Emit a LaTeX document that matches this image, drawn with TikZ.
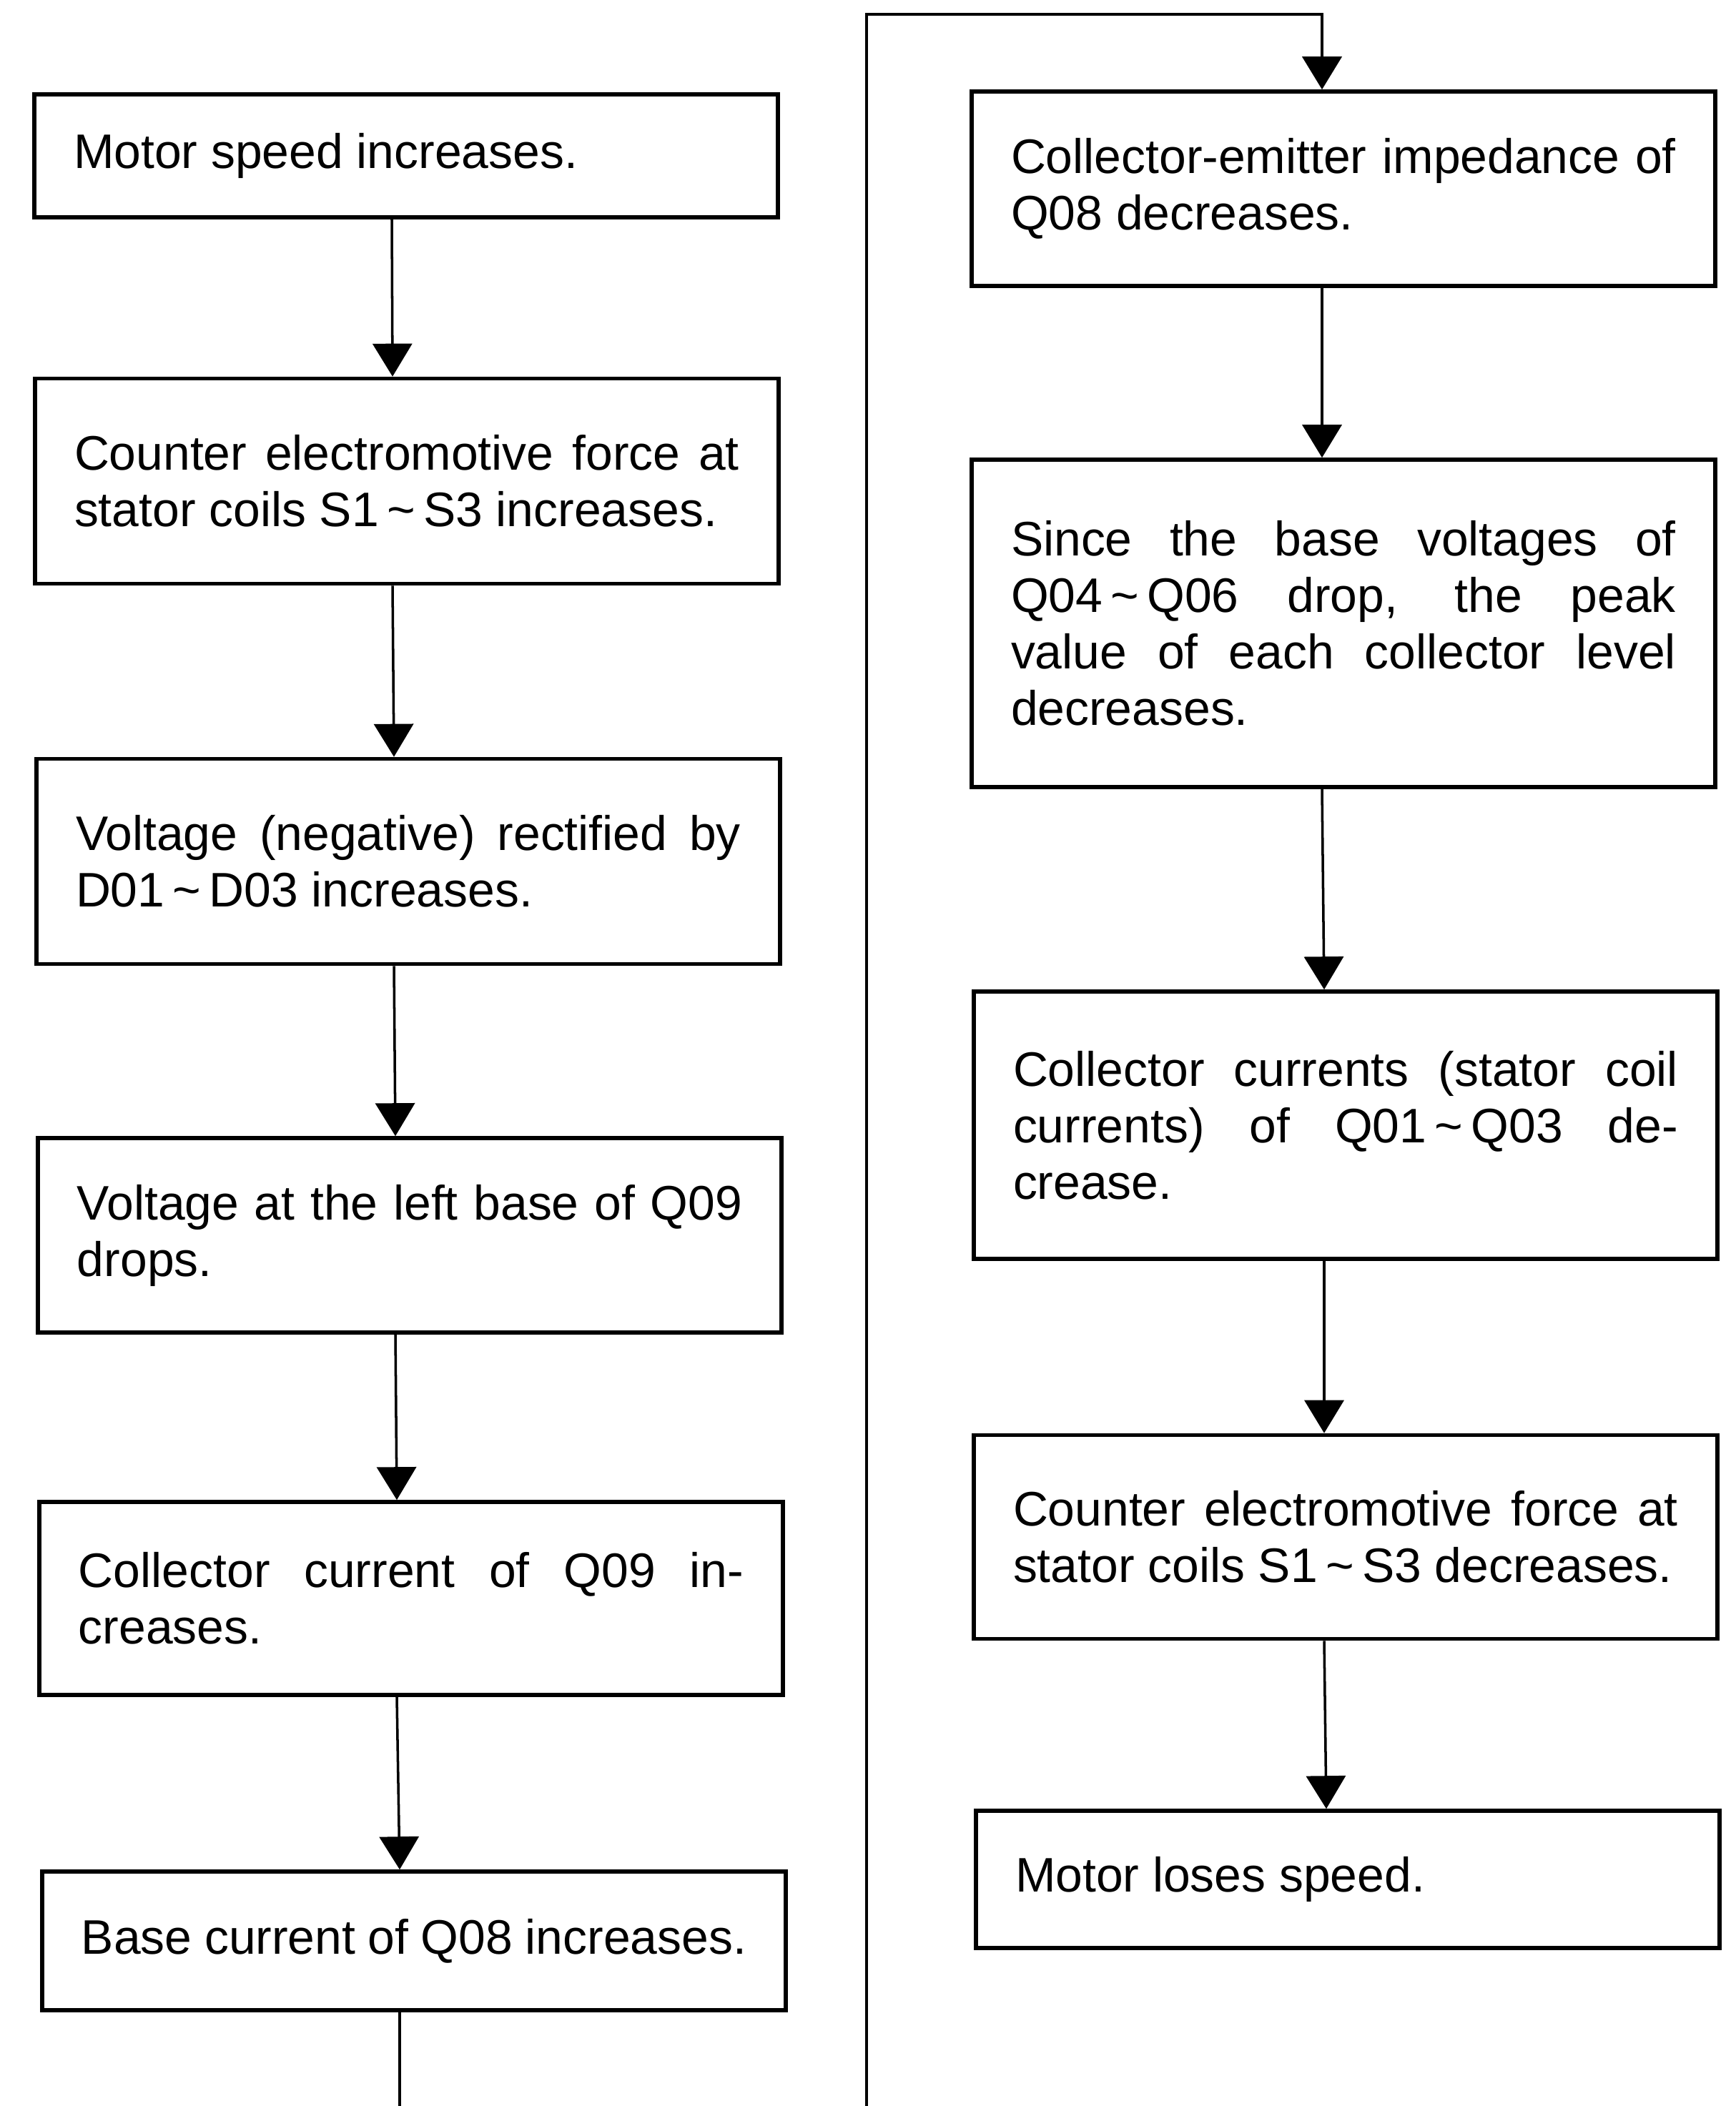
\documentclass[tikz,border=0pt]{standalone}
\usepackage{fontspec}
\setmainfont{Liberation Sans}
\usetikzlibrary{arrows.meta}
\pgfdeclarelayer{edgelayer}
\pgfdeclarelayer{nodelayer}
\pgfsetlayers{edgelayer,nodelayer,main}
\tikzstyle{stage}=[rectangle, draw=black, fill=white, line width=1.6pt, text width=9.3cm, align=justify, inner xsep=0.55cm, inner ysep=0pt, font=\fontsize{19.3}{22.5}\selectfont]
\tikzstyle{arrow}=[-{Triangle[width=0.55cm,length=0.46cm]}, draw=black, line width=1.000]
\tikzstyle{wire}=[-, draw=black, line width=1.200]
\newcommand{\rng}{\,\textasciitilde\,}

\begin{document}
\begin{tikzpicture}
            \useasboundingbox (0,0) rectangle (24.28,-29.46);
            \begin{pgfonlayer}{nodelayer}
                \coordinate (loopR) at (12.12, -29.46);
                \coordinate (looptop) at (12.12, -0.2);
                \node [style=stage, minimum height=1.72cm] (speedup) at (5.68, -2.18) {Motor speed increases.};
                \node [style=stage, minimum height=2.87cm] (cemfup) at (5.69, -6.73) {Counter electromotive force at\linebreak stator coils S1\rng S3 increases.};
                \node [style=stage, minimum height=2.87cm] (rectup) at (5.71, -12.05) {Voltage (negative) rectified by\linebreak D01\rng D03 increases.};
                \node [style=stage, minimum height=2.72cm] (basedrop) at (5.73, -17.28) {Voltage at the left base of Q09\linebreak drops.};
                \node [style=stage, minimum height=2.70cm] (collup) at (5.75, -22.36) {Collector current of Q09 in-\linebreak creases.};
                \node [style=stage, minimum height=1.94cm] (baseup) at (5.79, -27.15) {Base current of Q08 increases.};
                \node [style=stage, minimum height=2.72cm] (ceimp) at (18.79, -2.64) {Collector-emitter impedance of\linebreak Q08 decreases.};
                \node [style=stage, minimum height=4.58cm] (peakdown) at (18.79, -8.72) {Since the base voltages of\linebreak Q04\rng Q06 drop, the peak\linebreak value of each collector level\linebreak decreases.};
                \node [style=stage, minimum height=3.74cm] (colldown) at (18.82, -15.74) {Collector currents (stator coil\linebreak currents) of Q01\rng Q03 de-\linebreak crease.};
                \node [style=stage, minimum height=2.85cm] (cemfdown) at (18.82, -21.50) {Counter electromotive force at\linebreak stator coils S1\rng S3 decreases.};
                \node [style=stage, minimum height=1.92cm] (speeddown) at (18.85, -26.29) {Motor loses speed.};
                \coordinate (loopL) at ([xshift=-2mm]baseup.south |- loopR);
            \end{pgfonlayer}
            \begin{pgfonlayer}{edgelayer}
                \draw [style=arrow] ([xshift=-2mm]speedup.south) to ([xshift=-2mm]cemfup.north);
                \draw [style=arrow] ([xshift=-2mm]cemfup.south) to ([xshift=-2mm]rectup.north);
                \draw [style=arrow] ([xshift=-2mm]rectup.south) to ([xshift=-2mm]basedrop.north);
                \draw [style=arrow] ([xshift=-2mm]basedrop.south) to ([xshift=-2mm]collup.north);
                \draw [style=arrow] ([xshift=-2mm]collup.south) to ([xshift=-2mm]baseup.north);
                \draw [style=wire] ([xshift=-2mm]baseup.south) to (loopL);
                \draw [style=arrow, line width=1.200] (loopR) -- (looptop) -| ([xshift=-3mm]ceimp.north);
                \draw [style=arrow] ([xshift=-3mm]ceimp.south) to ([xshift=-3mm]peakdown.north);
                \draw [style=arrow] ([xshift=-3mm]peakdown.south) to ([xshift=-3mm]colldown.north);
                \draw [style=arrow] ([xshift=-3mm]colldown.south) to ([xshift=-3mm]cemfdown.north);
                \draw [style=arrow] ([xshift=-3mm]cemfdown.south) to ([xshift=-3mm]speeddown.north);
            \end{pgfonlayer}
        \end{tikzpicture}
\end{document}
